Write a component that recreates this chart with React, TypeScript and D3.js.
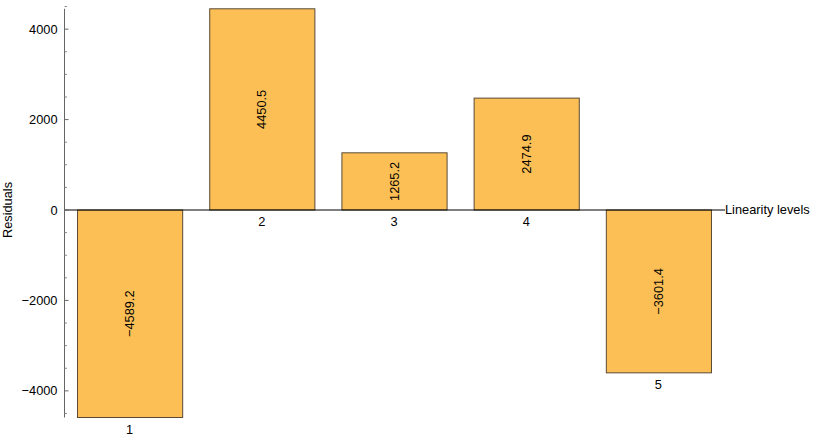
import React from "react";
import * as d3 from "d3";

const categories = ["1", "2", "3", "4", "5"];
const residuals = [-4589.2, 4450.5, 1265.2, 2474.9, -3601.4];
const yTicks = [-4000, -2000, 0, 2000, 4000];
const xTitle = "Linearity levels";
const yTitle = "Residuals";

export default function App() {
  const W = 818, H = 443;
  const axisX = 64.5;
  const y = d3.scaleLinear().domain([d3.min(residuals)!, d3.max(residuals)!]).range([417.5, 8.8]);
  const x = d3.scaleBand().domain(categories).range([77 - 13.5, 711 + 13.5]).paddingInner(27 / 132).paddingOuter(0.5 * 27 / 132);
  const minor = d3.range(-4500, 4500 + 1, 500).filter((v) => v % 2000 !== 0);
  const y0 = y(0);
  const font = "'Liberation Sans', Arial, sans-serif";
  const fmt = (v: number) => (v < 0 ? "\u2212" + Math.abs(v) : String(v));
  return (
    <svg width={W} height={H} style={{ position: "absolute", left: 0, top: 0 }} fontFamily={font} fontSize={12.8}>
      {residuals.map((v, i) => {
        const bx = x(categories[i])!;
        const top = Math.min(y(v), y0);
        const h = Math.abs(y(v) - y0);
        return (
          <g key={i}>
            <rect x={bx + 0.5} y={top} width={x.bandwidth()} height={h} fill="#FBBF56" stroke="#5a4a35" strokeWidth={1} />
            <text
              transform={`translate(${bx + x.bandwidth() / 2 + 4.5},${top + h / 2}) rotate(-90)`}
              textAnchor="middle"
              fill="#000"
            >
              {v < 0 ? "\u2212" + Math.abs(v).toFixed(1) : v.toFixed(1)}
            </text>
            <text x={bx + x.bandwidth() / 2} y={(v < 0 ? y(v) : y0) + 16} textAnchor="middle" fill="#000">
              {categories[i]}
            </text>
          </g>
        );
      })}
      <line x1={axisX} x2={725} y1={y0} y2={y0} stroke="#000" strokeWidth={1} />
      <text x={725} y={y0 + 4} fill="#000">{xTitle}</text>
      <line x1={axisX} x2={axisX} y1={y.range()[1]} y2={y.range()[0]} stroke="#666" strokeWidth={1} />
      {yTicks.map((t) => (
        <g key={t}>
          <line x1={axisX} x2={axisX + 4} y1={y(t)} y2={y(t)} stroke="#666" />
          <text x={axisX - 7} y={y(t) + 4.5} textAnchor="end" fill="#000">{fmt(t)}</text>
        </g>
      ))}
      {minor.map((t) => (
        <line key={t} x1={axisX} x2={axisX + 2.5} y1={y(t)} y2={y(t)} stroke="#888" />
      ))}
      <text transform={`translate(12,${y0}) rotate(-90)`} textAnchor="middle" fill="#000">{yTitle}</text>
    </svg>
  );
}
